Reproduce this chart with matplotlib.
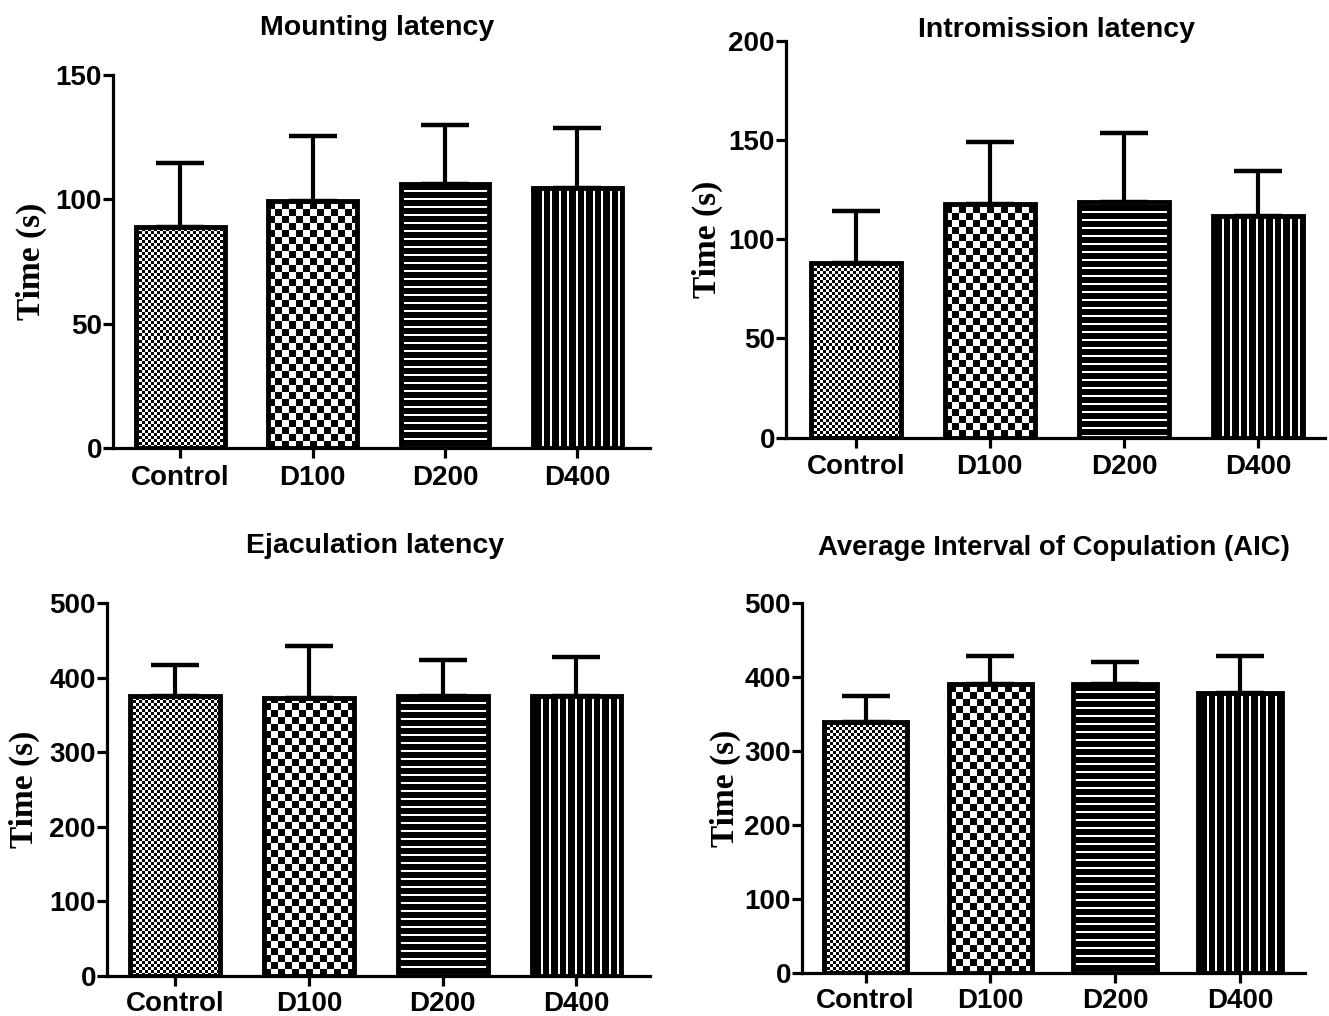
import numpy as np
import matplotlib.pyplot as plt

groups = ['Control', 'D100', 'D200', 'D400']

mount_mean = [89, 99.5, 106, 104.5]
mount_sem = [25.5, 26, 24, 24]

intro_mean = [88, 118, 119, 111.5]
intro_sem = [26.5, 31, 34.5, 23]

ejac_mean = [375, 372, 375, 375]
ejac_sem = [42, 71, 49, 53]

aic_mean = [339, 391, 390, 379]
aic_sem = [35, 37, 30, 49]

titles = ['Mounting latency', 'Intromission latency',
          'Ejaculation latency', 'Average Interval of Copulation (AIC)']

W, H = 1329, 1016
fig = plt.figure(figsize=(W / 100, H / 100), dpi=100)

# (means, sems, ymax, step, axes rect px [left, top, right, bottom], xlim, title xy px, ylabel x)
panels = [
    (mount_mean, mount_sem, 150, 50, [113, 75, 650, 448], (-0.51, 3.55), (377, 28), -0.123),
    (intro_mean, intro_sem, 200, 50, [786, 41, 1325, 437.5], (-0.52, 3.5), (1057, 30), -0.117),
    (ejac_mean, ejac_sem, 500, 100, [107, 603, 650, 976], (-0.51, 3.55), (375, 546), -0.123),
    (aic_mean, aic_sem, 500, 100, [802, 603, 1305, 973], (-0.51, 3.52), (1054, 548), -0.121),
]


def pattern(kind, nx, ny):
    yy, xx = np.indices((ny, nx))
    if kind == 0:
        c = 3
        return (((xx // c) + (yy // c)) % 2).astype(float)
    if kind == 1:
        c = 7
        return (((xx // c) + (yy // c)) % 2).astype(float)
    if kind == 2:
        return ((yy % 8) < 2).astype(float)
    return ((xx % 8.5) < 2).astype(float)


for i, (means, sems, ymax, step, rect, xlim, tpos, ylx) in enumerate(panels):
    l, t, r, b = rect
    ax = fig.add_axes([l / W, 1 - b / H, (r - l) / W, (b - t) / H])
    ax.set_xlim(*xlim)
    ax.set_ylim(0, ymax)
    x = np.arange(len(groups))
    bars = ax.bar(x, means, width=0.67, facecolor='none', edgecolor='black',
                  linewidth=3.5, zorder=3)
    # fill pattern inside each bar
    for k, p in enumerate(bars):
        x0 = p.get_x()
        x1 = x0 + p.get_width()
        h = p.get_height()
        (px0, py0), (px1, py1) = ax.transData.transform([(x0, 0), (x1, h)])
        nx = max(int(round(px1 - px0)), 1)
        ny = max(int(round(py1 - py0)), 1)
        arr = pattern(k, nx, ny)
        im = ax.imshow(arr, extent=(x0, x1, 0, h), origin='lower', cmap='gray',
                       vmin=0, vmax=1, interpolation='nearest', aspect='auto', zorder=2)
        im.set_clip_path(p)
    ax.set_xlim(*xlim)
    ax.set_ylim(0, ymax)
    eb = ax.errorbar(x, means, yerr=[np.zeros(len(sems)), sems], fmt='none',
                     ecolor='black', elinewidth=3, capsize=17, capthick=3.2, zorder=4)
    for c in eb[1]:
        c.set_solid_capstyle('round')

    for s in ['top', 'right']:
        ax.spines[s].set_visible(False)
    for s in ['left', 'bottom']:
        ax.spines[s].set_linewidth(2.3)
    ax.set_yticks(np.arange(0, ymax + 1, step))
    ax.set_xticks(x)
    ax.set_xticklabels(groups)
    ax.tick_params(axis='y', length=7, width=2.3, pad=1)
    ax.tick_params(axis='x', length=7.5, width=2.3, pad=4.5 if i < 2 else 3.5)
    for lab in ax.get_xticklabels() + ax.get_yticklabels():
        lab.set_fontfamily('Liberation Sans')
        lab.set_fontweight('bold')
        lab.set_fontsize(20)
    ax.set_ylabel('Time (s)', family='Liberation Serif', weight='bold', fontsize=24)
    ax.yaxis.set_label_coords(ylx, 0.5)
    fig.text(tpos[0] / W, 1 - tpos[1] / H, titles[i], ha='center', va='center',
             family='Liberation Sans', weight='bold',
             fontsize=20.5 if i < 3 else 19.8)

fig.savefig('out.png', dpi=100)
